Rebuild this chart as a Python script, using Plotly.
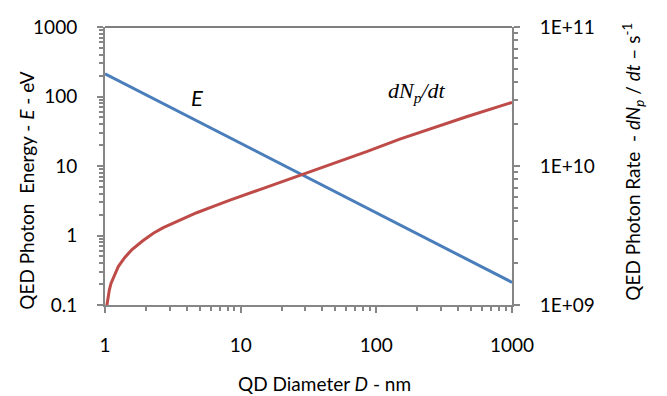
import plotly.graph_objects as go

# ---- data ----
diameter_E = [1, 2, 5, 10, 20, 50, 100, 200, 500, 1000]
energy_eV = [212, 106, 42.4, 21.2, 10.6, 4.24, 2.12, 1.06, 0.424, 0.212]

diameter_R = [1.029, 1.052, 1.076, 1.107, 1.17, 1.253, 1.4, 1.573, 1.9, 2.271, 2.69, 3.3,
              4.0, 4.74, 6.3, 8.34, 14.68, 25.86, 45.5, 84.8, 149, 262.6, 462, 1000]
rate_per_s = [0.973e9, 1.135e9, 1.28e9, 1.43e9, 1.64e9, 1.89e9, 2.20e9, 2.49e9, 2.90e9,
              3.28e9, 3.60e9, 3.95e9, 4.32e9, 4.61e9, 5.13e9, 5.69e9, 6.90e9, 8.38e9,
              1.03e10, 1.27e10, 1.56e10, 1.89e10, 2.26e10, 2.87e10]

x_tickvals = [1, 10, 100, 1000]
x_ticktext = ["1", "10", "100", "1000"]
yl_tickvals = [0.1, 1, 10, 100, 1000]
yl_ticktext = ["0.1", "1", "10", "100", "1000"]
yr_tickvals = [1e9, 1e10, 1e11]
yr_ticktext = ["1E+09", "1E+10", "1E+11"]


def minor_vals(decades):
    return [m * 10 ** d for d in decades for m in range(2, 10)]


FONT = "Lato, Open Sans, sans-serif"
GREY = "#868686"
BLUE = "#4A7EBB"
RED = "#BE4B48"

fig = go.Figure()
fig.add_trace(go.Scatter(x=diameter_E, y=energy_eV, mode="lines",
                         line=dict(color=BLUE, width=3), yaxis="y", showlegend=False))
fig.add_trace(go.Scatter(x=diameter_R, y=rate_per_s, mode="lines",
                         line=dict(color=RED, width=3),
                         yaxis="y2", showlegend=False))
# empty helper traces so the minor-tick axes are drawn
fig.add_trace(go.Scatter(x=[], y=[], xaxis="x2", yaxis="y3", showlegend=False,
                         hoverinfo="skip"))
fig.add_trace(go.Scatter(x=[], y=[], xaxis="x2", yaxis="y4", showlegend=False,
                         hoverinfo="skip"))

tickfont = dict(family=FONT, size=19, color="black")

common = dict(type="log", showgrid=False, zeroline=False, showline=True, linecolor=GREY,
              linewidth=2, ticks="outside", ticklen=6, tickcolor=GREY, tickwidth=1.5,
              tickfont=tickfont, ticklabelstandoff=16)
minor_common = dict(type="log", showgrid=False, zeroline=False, showline=False,
                    ticks="outside", ticklen=5, tickcolor=GREY, tickwidth=1.5,
                    showticklabels=False, tickmode="array")

fig.update_layout(
    width=667, height=396,
    margin=dict(l=105, r=155, t=27, b=91),
    paper_bgcolor="white", plot_bgcolor="white",
    xaxis=dict(range=[0, 3], tickvals=x_tickvals, ticktext=x_ticktext, **common),
    yaxis=dict(range=[-1, 3], tickvals=yl_tickvals, ticktext=yl_ticktext, **common),
    yaxis2=dict(range=[9, 11], tickvals=yr_tickvals, ticktext=yr_ticktext,
                overlaying="y", side="right", anchor="x", **common),
    xaxis2=dict(range=[0, 3], tickvals=minor_vals([0, 1, 2]), overlaying="x",
                side="bottom", anchor="y", **minor_common),
    yaxis3=dict(range=[-1, 3], tickvals=minor_vals([-1, 0, 1, 2]), overlaying="y",
                side="left", anchor="x", **minor_common),
    yaxis4=dict(range=[9, 11], tickvals=minor_vals([9, 10]), overlaying="y",
                side="right", anchor="x", **minor_common),
    shapes=[dict(type="line", xref="paper", yref="paper", x0=0, x1=1, y0=1, y1=1,
                 line=dict(color="black", width=1.2))],
    annotations=[
        dict(text="QD Diameter <i>D</i> - nm", xref="paper", yref="paper",
             x=0.54, y=-0.284, showarrow=False, xanchor="center", yanchor="middle",
             font=dict(family=FONT, size=19, color="black")),
        dict(text="QED Photon  Energy - <i>E</i> - eV", xref="paper", yref="paper",
             x=-0.192, y=0.414, showarrow=False, textangle=-90,
             xanchor="center", yanchor="middle",
             font=dict(family=FONT, size=19, color="black")),
        dict(text="QED Photon Rate  - <i>dN<sub>p</sub></i> / <i>dt</i> – s<sup>-1</sup>",
             xref="paper", yref="paper", x=1.297, y=0.515, showarrow=False, textangle=-90,
             xanchor="center", yanchor="middle",
             font=dict(family=FONT, size=19, color="black")),
        dict(text="<i>E</i>", xref="paper", yref="paper",
             x=(197 - 105) / 407, y=(305 - 98) / 278, showarrow=False,
             xanchor="center", yanchor="middle",
             font=dict(family=FONT, size=22, color="black")),
        dict(text="<i>dN<sub>p</sub>/dt</i>", xref="paper", yref="paper",
             x=(417 - 105) / 407, y=(305 - 92) / 278, showarrow=False,
             xanchor="center", yanchor="middle",
             font=dict(family="Liberation Serif, serif", size=22, color="black")),
    ],
)

fig.write_html("out.html", post_script="document.body.style.margin='0';",
               config={"displayModeBar": False})
